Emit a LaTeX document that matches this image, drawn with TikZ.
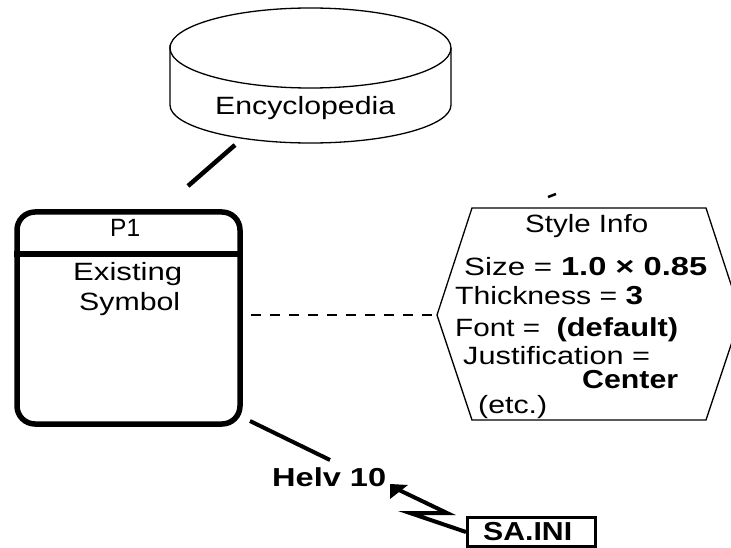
\documentclass[tikz,border=0pt]{standalone}
\usepackage{fontspec}
\usepackage{graphicx}
\usetikzlibrary{calc}
\setmainfont{Liberation Sans}
\newcommand{\fitw}[2]{\resizebox{#1pt}{\height}{#2}}
\newcommand{\bfpart}[1]{{\fontsize{26}{26}\selectfont\bfseries #1}}
\tikzset{x=1pt,y=-1pt,
  thin line/.style={draw=black,line width=1.3pt,line join=miter},
  thick conn/.style={draw=black,line width=4pt},
  txt/.style={inner sep=0pt,anchor=base west,font=\fontsize{25}{25}\selectfont},
  boldtxt/.style={inner sep=0pt,anchor=base west,font=\fontsize{26}{26}\selectfont\bfseries},
  symbolbox/.style={draw=black,line width=5.5pt,rounded corners=18pt,minimum width=223pt,minimum height=212pt,inner sep=0pt},
  inibox/.style={draw=black,line width=3pt,inner sep=0pt,minimum width=128pt,minimum height=28.5pt}
}
\begin{document}
\begin{tikzpicture}
\useasboundingbox (0,0) rectangle (731,548);
\clip (0,0) rectangle (731,548);
% cylinder
\coordinate (cylL) at (170,48);
\coordinate (cylR) at (451,48);
\draw[thin line] (cylL) arc[start angle=180,end angle=-180,x radius=140.5pt,y radius=40pt];
\draw[thin line] (170,45) -- (170,105) arc[start angle=180,end angle=360,x radius=140.5pt,y radius=38pt] -- (451,48);
\node[txt] (enc) at (215,115) {\fitw{180}{Encyclopedia}};
% symbol
\node[symbolbox] (p1) at (128.5,318) {};
\draw[line width=5.5pt] (p1.west |- 0,254) coordinate (divL) -- (p1.east |- 0,254) coordinate (divR);
\node[txt] (p1t) at (110,237) {\fitw{30}{P1}};
\node[txt] (ex) at (73,280) {\fitw{109}{Existing}};
\node[txt] (sy) at (79,310) {\fitw{101}{Symbol}};
% hexagon
\draw[thin line] (472,208) coordinate (h1) -- (706,208) coordinate (h2) -- (741,315) coordinate (h3) -- (706,420) coordinate (h4) -- (472,420) coordinate (h5) -- (437,315) coordinate (h6) -- cycle;
\node[txt] (si) at (525,233) {\fitw{123}{Style Info}};
\node[txt] (l1) at (464,276) {\fitw{243}{Size = \bfpart{1.0 × 0.85}}};
\node[txt] (l2) at (455,304) {\fitw{188}{Thickness = \bfpart{3}}};
\node[txt] (l3) at (455,336) {\fitw{223}{Font =\ \ \bfpart{(default)}}};
\node[txt] (l4) at (463,364) {\fitw{187}{Justification =}};
\node[boldtxt] (l5) at (582,388) {\fitw{96}{Center}};
\node[txt] (l6) at (478,413) {\fitw{69}{(etc.)}};
% labels
\node[boldtxt] (helv) at (272,486) {\fitw{114}{Helv 10}};
\node[inibox] (sa) at (531.5,532) {};
\node[boldtxt] (sat) at (483,540) {\fitw{89}{SA.INI}};
% connectors
\coordinate (e1) at (235,145); \coordinate (e2) at (188,186);
\draw[thick conn,line width=4.5pt] (e1) -- (e2);
\coordinate (d1) at (548,197); \coordinate (d2) at (556,194);
\draw[line width=2.5pt] (d1) -- (d2);
\coordinate (g1) at (251,315);
\draw[black,line width=1.4pt,dash pattern=on 10pt off 9pt] (g1) -- (h6);
\coordinate (c1) at (250,421); \coordinate (c2) at (330,460);
\draw[thick conn] (c1) -- (c2);
\coordinate (z1) at (410,513); \coordinate (z2) at (447,513); \coordinate (tip) at (390,484);
\draw[thick conn,line join=miter] (sa.west) -- (z1) -- (z2) -- ($(tip)+(9,6)$);
\fill (tip) -- (408,485) -- (390,499) -- cycle;
\end{tikzpicture}
\end{document}
